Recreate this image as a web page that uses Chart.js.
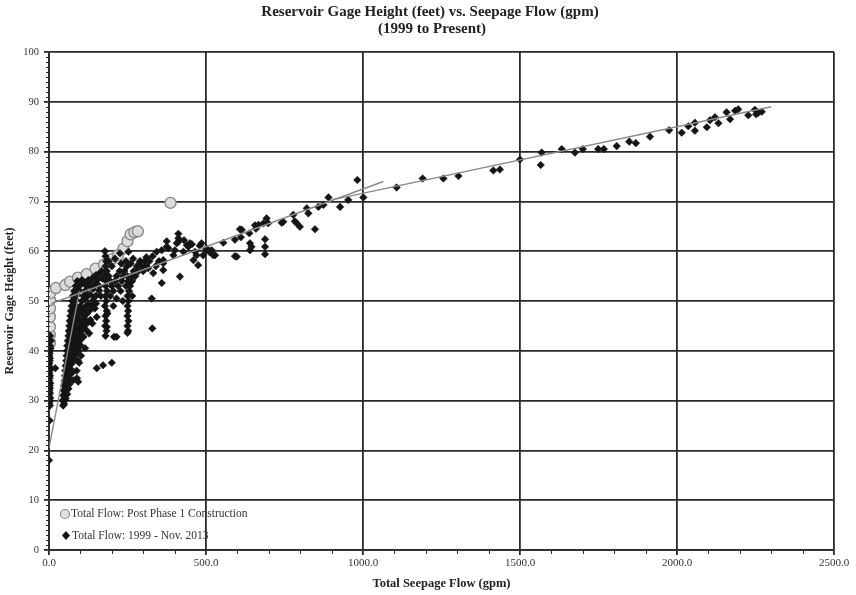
<!DOCTYPE html>
<html>
<head>
<meta charset="utf-8">
<script src="https://cdn.jsdelivr.net/npm/chart.js@4/dist/chart.umd.min.js"></script>
<style>
  html, body { margin: 0; padding: 0; background: #fff; }
  #wrap { width: 856px; height: 595px; }
</style>
</head>
<body>
<div id="wrap"><canvas id="seepage" width="856" height="595"></canvas></div>
<script>
// titles / legend labels
const chartTitle = ['Reservoir Gage Height (feet) vs. Seepage Flow (gpm)', '(1999 to Present)'];
const xTitle = 'Total Seepage Flow (gpm)';
const yTitle = 'Reservoir Gage Height (feet)';
const postPhaseLabel = 'Total Flow: Post Phase 1 Construction';
const histLabel = 'Total Flow: 1999 - Nov. 2013';

// axis ranges (gpm / feet)
const xRange = [0, 2500];
const yRange = [0, 100];

// post phase 1 construction readings [gpm, ft]
const postPhase = [[3,41.6],[3,43.2],[3,44.8],[3,46.8],[3,48.5],[3,50.2],[4,51.6],[22,52.6],[52,53.2],[67,53.9],
  [92,54.7],[120,55.4],[148,56.5],[175,57.3],[200,58.4],[220,59.2],[237,60.5],[250,62],[260,63.4],[272,63.8],[283,64],[387,69.7]];

// 1999 - Nov 2013 readings, split by area of the plot
const histBase = [[0,18],[2,26],[3,29],[1,29.5],[2,30],[4,30.5],[0,31],[3,31.5],[1,32],[2,33],[4,33.5],[0,34],[3,35],
  [1,35.5],[2,36],[4,36.5],[0,37],[2,38],[3,38.5],[1,39],[2,40],[5,40.5],[3,41],[6,42],[4,43],[20,36.5],[1,30],
  [3,32.5],[2,34.5],[0,36.5],[1,37.5],[2,39.5]];

const histBand = [[45,29],[48,29.3],[44,30],[47,30.2],[50,30],[53,30.4],[46,31],[49,31.2],[52,31],[58,31.3],
  [47,32],[50,32.2],[54,32],[62,32.4],[48,33],[52,33.2],[56,33],[65,33.3],[93,33.8],[50,34],[54,34.2],[58,34],[77,34.1],
  [51,35],[55,35.2],[60,35],[68,35.4],[72,35.5],[52,36],[57,36.2],[62,36],[70,36.3],[53,37],[58,37.2],[64,37],[72,37.4],
  [55,38],[60,38.2],[66,38],[75,38.3],[56,39],[62,39.2],[68,39],[78,39.3],[82,39.1],[57,40],[63,40.2],[70,40],[80,40.4],
  [58,41],[65,41.2],[72,41],[85,41.3],[100,41.1],[60,42],[67,42.2],[75,42],[90,42.4],[62,43],[69,43.2],[78,43],[95,43.3],
  [105,43.1],[63,44],[71,44.2],[80,44],[100,44.3],[65,45],[73,45.2],[83,45],[108,45.4],[66,46],[75,46.2],[86,46],[115,46.3],
  [68,47],[78,47.2],[90,47],[120,47.4],[70,48],[80,48.2],[95,48],[110,48.3],[130,48.1],[72,49],[83,49.2],[100,49],[125,49.3],
  [74,50],[87,50.2],[105,50],[115,50.4],[140,50.1],[76,51],[90,51.2],[110,51],[130,51.3],[150,51.1],[80,52],[95,52.2],
  [115,52],[140,52.4],[160,52.1],[85,53],[100,53.2],[120,53],[145,53.3],[90,54],[105,54.2],[130,54],[155,54.3],
  [100,53.8],[125,54.2],[150,55.2],[112,53.5],[138,54.6],[152,36.5],[172,37.1],[200,37.6],[131,52.9],[146,48.5],[152,46.8],
  [120,45.5],[184,44.8],[215,42.8],[89,34.5],[85,38.2],[96,37.6],
  [88,36],[92,38],[95,40],[98,42],[103,44],[106,46],[112,47],[118,49],[122,51],[85,42.5],[88,44.5],[92,46.5],[97,48.5],
  [74,39.5],[76,41.5],[80,43.5],[83,46.5],[86,48.5],[62,34.5],[66,35.8],[70,37.8],[74,41],[78,44.8],[82,47.8],
  [110,42.8],[118,44.2],[125,45.8],[132,46.2],[138,45.5],[128,43.5],[115,40.5],[120,48],[135,49],[145,50.8],[150,49.5],
  [108,44.8],[100,46],[96,45],[105,47.5],[92,40.8],[102,39],[88,39.8],[207,42.8],[186,47.5]];

const histMid = [[160,55.5],[168,56],[178,60],[180,59],[182,58],[180,57],[184,56],
  [178,55],[182,54],[180,53],[185,52],[180,51],[182,50],[178,49],[184,48],[180,47],[182,46],[179,45],[183,44],[180,43],
  [190,55],[195,54],[200,53],[205,52],[210,54],[215,55],[220,53],[225,56],[228,52],[232,54],[236,55],[240,56],[245,53],
  [250,55],[252,54],[255,52],[250,51],[253,50],[250,49],[252,48],[250,47],[253,46],[250,45],[252,44],[250,43.6],[258,53],
  [262,55],[265,54],[270,56],[275,55],[280,57],[285,56],[290,58],[295,57],[300,56],[305,58],[310,57],[316,56.6],[320,58],
  [327,50.5],[329,44.5],[332,55.6],[340,57],[350,58],[359,53.6],[364,57.6],[226,59.6],[253,59.9],[247,56.9],[265,51],
  [235,50],[205,49],[195,51],[215,50.5],[190,58],[200,57],[210,58.5],[160,53],[170,54.5],[165,51],[140,50],[148,53.5],
  [230,57.5],[245,58],[260,57.5],[268,58.5]];

const histUpper = [[343,59.9],[359,60.2],[364,58.2],[364,56.2],[380,60.6],[396,59.2],[401,60.2],[412,61.9],[412,62.6],
  [417,54.9],[428,59.9],[444,60.9],[449,61.6],[460,58.2],[465,59.9],[475,57.2],[486,61.6],[491,59.2],[502,60.6],[518,60.2],
  [529,59.2],[555,61.7],[592,59],[592,62.3],[608,64.4],[611,62.8],[375,60.9],[407,61.6],[439,61.2],[470,59.2],[523,59.2],
  [598,58.9],[290,57.9],[412,63.5],[375,62],[430,62.2],[455,61.4],[480,61.1],[500,60.2],[512,59.8],[330,59],[310,58.8]];

const histRight = [[640,61.6],[640,60.2],[645,60.9],[656,65.2],[659,64.5],[683,65.6],[688,60.9],[688,62.4],[688,59.4],
  [693,66.6],[698,65.6],[667,65.3],[638,63.6],[614,64.3],[746,65.9],[741,65.7],[778,67.3],[783,66],[789,65.6],[799,64.9],
  [821,68.6],[826,67.6],[847,64.4],[858,68.9],[874,69.3],[890,70.8],[927,68.9],[953,70.3],[982,74.3],[1001,70.8]];

const histHigh = [[1107,72.8],[1190,74.6],[1256,74.6],[1304,75.1],[1415,76.2],[1436,76.4],[1500,78.4],[1566,77.3],
  [1569,79.8],[1633,80.5],[1675,79.8],[1700,80.5],[1749,80.5],[1767,80.5],[1808,81.1],[1848,82],[1869,81.7],[1914,83],
  [1975,84.3],[2015,83.8],[2036,85.1],[2057,85.8],[2057,84.2],[2095,84.9],[2105,86.3],[2121,86.9],[2132,85.7],[2158,87.9],
  [2169,86.5],[2185,88.2],[2195,88.5],[2227,87.3],[2248,88.4],[2252,87.5],[2259,87.8],[2270,88]];

// trend lines (end points)
const trendLow = [[0,20.5],[97,52]];
const trendMid = [[8,49.5],[1065,74]];
const trendHigh = [[900,70.3],[2300,89]];

const toPts = arr => arr.map(p => ({ x: p[0], y: p[1] }));
const histAll = [].concat(histBase, histBand, histMid, histUpper, histRight, histHigh);

const serif = '"Liberation Serif", "DejaVu Serif", serif';
const gridCol = '#2a2a2a';

const trendSet = (pts) => ({
  data: toPts(pts),
  showLine: true,
  borderColor: '#8a8a8a',
  borderWidth: 1.4,
  pointRadius: 0,
  fill: false,
  order: 0,
});

// title, minor ticks and in-plot legend
const decor = {
  id: 'decor',
  afterDraw(chart) {
    const { ctx, chartArea: a, scales } = chart;
    const xs = scales.x, ys = scales.y;
    ctx.save();

    // minor ticks
    ctx.strokeStyle = gridCol;
    ctx.lineWidth = 1;
    ctx.beginPath();
    for (let v = 1; v < 100; v++) {
      if (v % 10 === 0) continue;
      const py = Math.round(ys.getPixelForValue(v)) + 0.5;
      ctx.moveTo(a.left - 3, py);
      ctx.lineTo(a.left + 1, py);
    }
    for (let v = 100; v < 2500; v += 100) {
      if (v % 500 === 0) continue;
      const px = Math.round(xs.getPixelForValue(v)) + 0.5;
      ctx.moveTo(px, a.bottom - 1);
      ctx.lineTo(px, a.bottom + 4);
    }
    ctx.stroke();

    // title
    ctx.fillStyle = '#222';
    ctx.font = 'bold 15px ' + serif;
    ctx.textAlign = 'center';
    ctx.textBaseline = 'middle';
    ctx.fillText(chartTitle[0], 430, 12);
    ctx.fillText(chartTitle[1], 432, 29);

    // legend
    ctx.font = '11.5px ' + serif;
    ctx.textAlign = 'left';
    ctx.beginPath();
    ctx.arc(65, 514, 4.5, 0, 2 * Math.PI);
    ctx.fillStyle = '#e2e2e2';
    ctx.fill();
    ctx.strokeStyle = '#8a8a8a';
    ctx.lineWidth = 1.2;
    ctx.stroke();
    ctx.fillStyle = '#333';
    ctx.fillText(postPhaseLabel, 71, 514);

    ctx.beginPath();
    ctx.moveTo(66, 531);
    ctx.lineTo(70, 535.5);
    ctx.lineTo(66, 540);
    ctx.lineTo(62, 535.5);
    ctx.closePath();
    ctx.fillStyle = '#151515';
    ctx.fill();
    ctx.fillStyle = '#333';
    ctx.fillText(histLabel, 72, 536);

    ctx.restore();
  }
};

new Chart(document.getElementById('seepage'), {
  type: 'scatter',
  data: {
    datasets: [
      trendSet(trendLow),
      trendSet(trendMid),
      trendSet(trendHigh),
      {
        label: histLabel,
        data: toPts(histAll),
        pointStyle: 'rectRot',
        pointRadius: 3.8,
        backgroundColor: '#151515',
        borderColor: '#151515',
        borderWidth: 0.5,
        order: 1,
      },
      {
        label: postPhaseLabel,
        data: toPts(postPhase),
        pointStyle: 'circle',
        pointRadius: 5.5,
        backgroundColor: '#dcdcdc',
        borderColor: '#8a8a8a',
        borderWidth: 1.4,
        order: 2,
      },
    ],
  },
  options: {
    responsive: false,
    animation: false,
    events: [],
    layout: { padding: { top: 52, right: 22, left: 0, bottom: 0 } },
    plugins: {
      legend: { display: false },
      title: { display: false },
      tooltip: { enabled: false },
    },
    scales: {
      x: {
        type: 'linear',
        min: xRange[0],
        max: xRange[1],
        afterFit(s) { s.height = 45; },
        ticks: {
          stepSize: 500,
          color: '#333',
          padding: 2,
          maxRotation: 0,
          font: { family: serif, size: 11 },
          callback: v => v.toFixed(1),
        },
        grid: { color: gridCol, lineWidth: 1.8, tickLength: 5, tickColor: gridCol },
        border: { color: gridCol, width: 1.8 },
        title: {
          display: true,
          text: xTitle,
          color: '#222',
          font: { family: serif, size: 12.5, weight: 'bold' },
          padding: { top: 0, bottom: 4 },
        },
      },
      y: {
        type: 'linear',
        min: yRange[0],
        max: yRange[1],
        afterFit(s) { s.width = 49; },
        ticks: {
          stepSize: 10,
          color: '#333',
          padding: 5,
          font: { family: serif, size: 10.5 },
        },
        grid: { color: gridCol, lineWidth: 1.8, tickLength: 5, tickColor: gridCol },
        border: { color: gridCol, width: 1.8 },
        title: {
          display: true,
          text: yTitle,
          color: '#222',
          font: { family: serif, size: 12, weight: 'bold' },
          padding: { top: 3, bottom: 0 },
        },
      },
    },
  },
  plugins: [decor],
});
</script>
</body>
</html>
